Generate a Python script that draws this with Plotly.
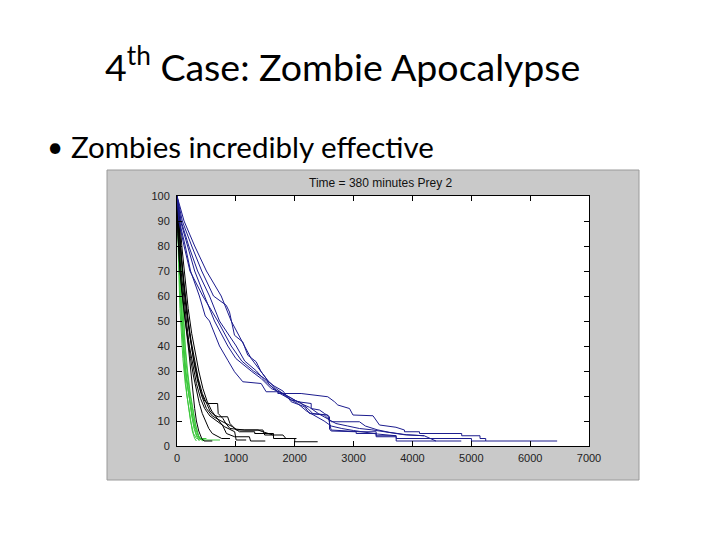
import plotly.graph_objects as go

# ---------------- data ----------------
X_TICKS = [0, 1000, 2000, 3000, 4000, 5000, 6000, 7000]
X_TICK_LABELS = ["0", "1000", "2000", "3000", "4000", "5000", "6000", "7000"]
Y_TICKS = [0, 10, 20, 30, 40, 50, 60, 70, 80, 90, 100]
Y_TICK_LABELS = ["0", "10", "20", "30", "40", "50", "60", "70", "80", "90", "100"]

# blue runs (slowest prey decline)
BLUE_X = [
    [0, 90, 250, 420, 620, 836, 892, 977, 1118, 1203, 1345, 1430, 1515, 1571, 1713, 1713, 2109, 2562, 2676, 2732, 2931, 2990, 3330, 3440, 3720, 3865, 3865, 4120, 4120, 4837, 4837, 5148, 5148, 5245, 5245, 6459],
    [0, 40, 140, 230, 380, 480, 552, 722, 863, 977, 1118, 1430, 1515, 1741, 1940, 2081, 2222, 2307, 2562, 2619, 3100, 3384, 3384, 3724, 3724, 5003, 5003, 5245],
    [0, 60, 180, 300, 467, 637, 863, 1000, 1260, 1430, 1600, 1800, 2052, 2280, 2280, 2421, 2506, 2591, 2591, 2619, 3044, 3044, 3384, 3384, 3724, 3724, 4830],
    [0, 30, 120, 220, 438, 693, 921, 1100, 1300, 1487, 1650, 1800, 1940, 2166, 2251, 2506, 2619, 3100, 3200, 3400, 3600, 3900, 4200, 4400],
    [0, 120, 300, 500, 751, 921, 1147, 1260, 1420, 1550, 1680, 1800, 1950, 2100, 2250, 2400, 2550, 2700, 2900, 3100, 3300, 3500, 3700, 3865, 4200],
    [0, 70, 200, 350, 552, 722, 1006, 1150, 1350, 1500, 1600, 1750, 1900, 2050, 2200, 2350, 2500, 2620, 2800, 3000, 3200, 3400, 3724],
]
BLUE_Y = [
    [100, 90, 80, 70, 60, 56.3, 53.6, 44.3, 41.6, 36.3, 33.7, 29.7, 27, 24.4, 21.7, 21, 21, 19.7, 17.7, 16.4, 15, 12.4, 12.1, 8.4, 7.5, 6.4, 5.7, 5.7, 5, 5, 4.1, 4.1, 3, 3, 2, 2],
    [100, 90, 80, 70, 60, 52, 50, 40, 34.3, 29.7, 25.7, 25, 21.7, 21.7, 18.4, 17.7, 15, 13, 12.4, 6.4, 5.7, 5.7, 4.1, 4.1, 3, 3, 2, 2],
    [100, 90, 80, 70, 60, 50, 40, 35, 30, 27, 23, 21, 17.7, 17, 15, 14.4, 13, 11.7, 6.8, 6, 5.7, 5, 5, 3.7, 3.7, 2, 2],
    [100, 90, 80, 70, 60, 50, 40, 34, 30, 27, 24, 22, 17.7, 15.7, 13, 12.4, 9.7, 9.7, 8, 6.5, 5.5, 4.5, 4.1, 2],
    [100, 90, 80, 70, 60, 50, 40, 35, 30, 26, 23, 21, 19, 17, 15.5, 13, 11, 9, 8, 7, 6.5, 5.7, 5, 4.5, 4.1],
    [100, 90, 80, 70, 60, 50, 40, 34, 30, 26, 24, 21, 19, 17, 14, 12, 10, 8, 7, 6.2, 5.5, 4.8, 4.1],
]

# black runs
BLACK_X = [
    [0, 30, 70, 120, 170, 230, 290, 350, 420, 500, 600, 750, 880, 945, 1060, 1320, 1320, 1640, 1640, 2000, 2000, 2390],
    [0, 20, 60, 110, 160, 210, 270, 330, 400, 470, 560, 680, 810, 980, 1005, 1175],
    [0, 15, 50, 100, 150, 200, 240, 270, 300, 330, 370, 420, 460, 600],
    [0, 25, 70, 120, 170, 220, 280, 340, 400, 470, 520, 690, 700, 780, 830, 900, 1150, 1460, 1490, 1630],
    [0, 30, 80, 130, 180, 240, 300, 360, 430, 500, 560, 620, 700, 860, 900, 1005, 1375, 1460, 1630, 1800, 1850, 2030],
    [0, 10, 40, 80, 130, 180, 230, 280, 330, 380, 430, 480, 540, 600, 680, 760, 900],
    [0, 40, 90, 140, 190, 250, 310, 370, 440, 510, 590, 650, 720, 780, 840, 980, 1230, 1250, 1500],
]
BLACK_Y = [
    [100, 90, 75, 62, 52, 42, 33, 26, 20, 15, 12, 10, 8.5, 7.7, 5.7, 5.7, 5, 5, 3, 3, 1.7, 1.7],
    [100, 88, 72, 60, 50, 40, 32, 25, 19, 15, 12, 10, 7.7, 5.7, 2.4, 2.4],
    [100, 85, 70, 58, 48, 38, 30, 22, 15, 10, 6, 3, 2, 2],
    [100, 90, 76, 64, 54, 44, 35, 28, 22, 18, 17, 17, 13, 11, 9, 7, 6.4, 6.4, 4.4, 4.4],
    [100, 88, 74, 62, 52, 42, 34, 27, 21, 17, 14, 12.5, 11.7, 11.7, 9, 6.4, 6.4, 5.7, 4.4, 4.4, 3, 3],
    [100, 88, 74, 62, 52, 43, 35, 28, 22, 17, 13, 10, 7, 5, 4, 3, 3],
    [100, 92, 78, 66, 55, 45, 37, 30, 23, 18, 14, 12, 10, 8, 5, 3.7, 3.7, 2, 2],
]

# green runs (fastest decline)
GREEN_X = [
    [0, 20, 40, 60, 80, 100, 130, 170, 220, 260, 300, 330],
    [0, 25, 50, 70, 90, 120, 150, 200, 250, 290, 330, 380],
    [0, 15, 35, 55, 80, 110, 140, 190, 240, 300, 360, 400],
    [0, 30, 55, 80, 105, 130, 160, 210, 270, 320, 370, 420, 730],
    [0, 10, 30, 50, 75, 100, 140, 180, 230, 280, 330, 470],
    [0, 20, 45, 70, 100, 125, 160, 200, 250, 300, 340, 440],
    [0, 35, 60, 90, 115, 140, 180, 220, 270, 310, 350, 390, 500],
]
GREEN_Y = [
    [100, 90, 75, 60, 50, 40, 30, 20, 12, 6, 3, 2],
    [100, 90, 75, 60, 50, 40, 30, 20, 12, 7, 4, 2],
    [100, 88, 72, 60, 48, 38, 30, 22, 15, 8, 4, 2.4],
    [100, 90, 78, 65, 52, 42, 32, 22, 14, 8, 4, 2.4, 2.4],
    [100, 85, 70, 55, 45, 35, 25, 18, 10, 5, 3, 2.4],
    [100, 85, 70, 58, 45, 35, 27, 20, 13, 7, 4, 2],
    [100, 88, 74, 60, 50, 40, 30, 22, 15, 9, 5, 3, 3],
]

PLOT_TITLE = "Time = 380 minutes Prey 2"
SLIDE_TITLE = "4<sup>th</sup> Case: Zombie Apocalypse"
BULLET_TEXT = "Zombies incredibly effective"

# ---------------- layout geometry ----------------
W, H = 720, 540
ML, MR, MT, MB = 177, 131, 196, 94
PW, PH = W - ML - MR, H - MT - MB


def fx(px):
    return (px - ML) / PW


def fy(py):
    return (H - MB - py) / PH


COL_BLUE = "#1c1c8e"
COL_BLACK = "#000000"
COL_GREEN = "#3cc83c"

fig = go.Figure()
for xs, ys in zip(GREEN_X, GREEN_Y):
    fig.add_trace(go.Scatter(x=xs, y=ys, mode="lines", line=dict(color=COL_GREEN, width=1),
                             hoverinfo="skip", showlegend=False))
for xs, ys in zip(BLACK_X, BLACK_Y):
    fig.add_trace(go.Scatter(x=xs, y=ys, mode="lines", line=dict(color=COL_BLACK, width=1),
                             hoverinfo="skip", showlegend=False))
for xs, ys in zip(BLUE_X, BLUE_Y):
    fig.add_trace(go.Scatter(x=xs, y=ys, mode="lines", line=dict(color=COL_BLUE, width=1),
                             hoverinfo="skip", showlegend=False))

tick_font = dict(family="Liberation Sans, Arial, sans-serif", size=11, color="#222222")

fig.update_layout(
    width=W, height=H,
    margin=dict(l=ML, r=MR, t=MT, b=MB, pad=0),
    paper_bgcolor="white",
    plot_bgcolor="white",
    showlegend=False,
    xaxis=dict(range=[0, 7000], tickvals=X_TICKS, ticktext=X_TICK_LABELS, ticks="inside",
               ticklen=5, tickcolor="black", showgrid=False, zeroline=False, showline=True,
               linecolor="black", linewidth=1, mirror="ticks", tickfont=tick_font,
               ticklabelstandoff=2, fixedrange=True),
    yaxis=dict(range=[0, 100], tickvals=Y_TICKS, ticktext=Y_TICK_LABELS, ticks="inside",
               ticklen=5, tickcolor="black", showgrid=False, zeroline=False, showline=True,
               linecolor="black", linewidth=1, mirror="ticks", tickfont=tick_font,
               ticklabelstandoff=4, fixedrange=True),
    shapes=[
        # gray figure window panel
        dict(type="rect", xref="paper", yref="paper", x0=fx(107), x1=fx(639), y0=fy(480), y1=fy(170),
             fillcolor="#c9c9c9", line=dict(color="#9a9a9a", width=1), layer="below"),
        # white axes area
        dict(type="rect", xref="paper", yref="paper", x0=0, x1=1, y0=0, y1=1,
             fillcolor="white", line=dict(width=0), layer="below"),
    ],
    annotations=[
        dict(text=PLOT_TITLE, xref="paper", yref="paper", x=fx(381), y=fy(183), showarrow=False,
             xanchor="center", yanchor="middle",
             font=dict(family="Liberation Sans, Arial, sans-serif", size=12, color="#111111")),
        dict(text=SLIDE_TITLE, xref="paper", yref="paper", x=fx(342), y=fy(64), showarrow=False,
             xanchor="center", yanchor="middle",
             font=dict(family="Lato, sans-serif", size=37.5, color="black")),
        dict(text="\u2022", xref="paper", yref="paper", x=fx(55), y=fy(146), showarrow=False,
             xanchor="center", yanchor="middle",
             font=dict(family="Lato, sans-serif", size=28, color="black")),
        dict(text=BULLET_TEXT, xref="paper", yref="paper", x=fx(69), y=fy(146), showarrow=False,
             xanchor="left", yanchor="middle",
             font=dict(family="Lato, sans-serif", size=29.5, color="black")),
    ],
)

fig.write_html("out.html", config={"displayModeBar": False},
               post_script="document.body.style.margin='0';document.body.style.overflow='hidden';")
